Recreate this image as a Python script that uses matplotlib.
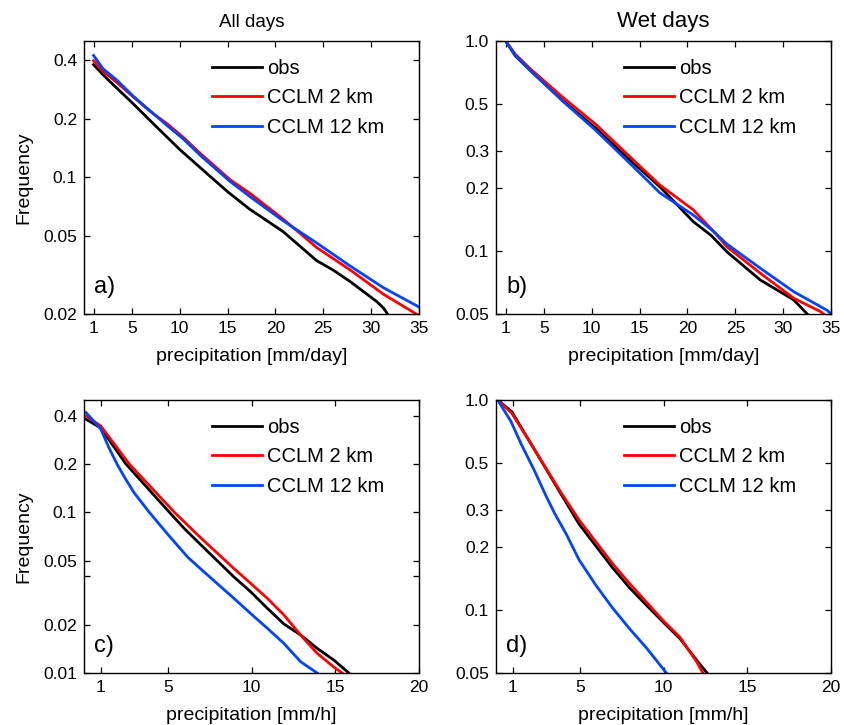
import numpy as np
import matplotlib
matplotlib.use("Agg")
import matplotlib.pyplot as plt
from matplotlib.ticker import FixedLocator, NullFormatter, NullLocator

plt.rcParams['font.family'] = ['Liberation Sans', 'DejaVu Sans']

# a) all days, daily precipitation
a_obs_x = [1, 2, 3, 5, 7.5, 10, 13.3, 15, 17.3, 20.8, 24.3, 26, 27.8, 30.6, 31.3, 31.7]
a_obs_y = [0.378, 0.335, 0.3, 0.242, 0.183, 0.139, 0.1, 0.0845, 0.0688, 0.0528,
           0.0375, 0.0336, 0.0293, 0.0231, 0.0214, 0.02]
a_2km_x = [1, 2, 3.4, 5.2, 6.9, 8.7, 10.4, 12.2, 15.3, 17.3, 20.8, 24.3, 27.8, 31.3, 34.7]
a_2km_y = [0.396, 0.35, 0.307, 0.257, 0.218, 0.188, 0.160, 0.132, 0.097, 0.0832, 0.0612,
           0.0438, 0.0336, 0.0252, 0.02]
a_12km_x = [1, 2, 3.4, 5.2, 8.7, 10.4, 12.2, 15.3, 17.3, 20.8, 24.3, 27.8, 31.3, 35]
a_12km_y = [0.421, 0.36, 0.316, 0.259, 0.184, 0.157, 0.129, 0.095, 0.080, 0.060, 0.0462, 0.0352,
            0.0272, 0.0217]

# b) wet days, daily precipitation
b_obs_x = [1, 2, 3.44, 6.93, 10.4, 13.9, 16.3, 17.2, 20.6, 22.5, 24.1, 27.6, 31.1, 32.5]
b_obs_y = [1.0, 0.85, 0.733, 0.521, 0.384, 0.273, 0.218, 0.2, 0.1377, 0.118, 0.099, 0.0726, 0.0583, 0.05]
b_2km_x = [1, 2, 3.44, 6.93, 10.4, 13.9, 16.3, 17.1, 20.6, 22.7, 24.1, 27.6, 31.1, 33.9, 34.2]
b_2km_y = [1.0, 0.865, 0.746, 0.541, 0.401, 0.283, 0.223, 0.206, 0.1567, 0.124, 0.1047, 0.0782,
           0.0594, 0.0513, 0.05]
b_12km_x = [1, 2, 3.44, 6.93, 10.4, 13.9, 16.3, 17.1, 20.6, 22.7, 24.1, 27.6, 31.1, 34.6, 35]
b_12km_y = [1.0, 0.855, 0.733, 0.518, 0.3755, 0.263, 0.2055, 0.189, 0.148, 0.124, 0.1078, 0.0826,
            0.0638, 0.052, 0.05]

# c) all hours, hourly precipitation
c_obs_x = [0.13, 1.0, 2.5, 5.1, 6.0, 6.96, 8.94, 9.94, 10.94, 11.93, 12.93, 13.92, 14.91, 15.81]
c_obs_y = [0.379, 0.335, 0.2, 0.1, 0.079, 0.063, 0.0397, 0.0321, 0.0253, 0.0202, 0.01724, 0.01424, 0.01205, 0.01]
c_2km_x = [0.13, 1.0, 2.7, 5.4, 6.2, 6.96, 8.94, 9.94, 10.94, 11.93, 12.93, 13.92, 14.91, 15.41]
c_2km_y = [0.397, 0.345, 0.2, 0.1, 0.083, 0.0695, 0.0448, 0.0362, 0.0292, 0.023, 0.01724, 0.01326, 0.0109, 0.01]
c_12km_x = [0.13, 1.0, 1.5, 2.0, 2.5, 3.0, 3.9, 5.0, 6.2, 6.96, 8.94, 9.94, 10.94, 11.93, 12.93, 13.92]
c_12km_y = [0.417, 0.33, 0.251, 0.197, 0.16, 0.132, 0.1, 0.073, 0.0525, 0.0445, 0.0292, 0.0235, 0.019,
            0.0153, 0.01176, 0.01]

# d) wet hours, hourly precipitation
d_obs_x = [0.1, 0.94, 2.0, 2.9, 3.9, 4.96, 5.96, 6.96, 7.97, 8.97, 9.97, 10.98, 11.98, 12.6]
d_obs_y = [1.0, 0.88, 0.635, 0.482, 0.354, 0.256, 0.2015, 0.1586, 0.1274, 0.1054, 0.0875, 0.0729, 0.0575, 0.05]
d_2km_x = [0.1, 0.94, 2.0, 2.9, 3.9, 4.96, 5.96, 6.96, 7.97, 8.97, 9.97, 10.98, 11.98, 12.35]
d_2km_y = [1.0, 0.865, 0.635, 0.485, 0.36, 0.268, 0.211, 0.166, 0.1336, 0.109, 0.089, 0.074, 0.0565, 0.05]
d_12km_x = [0.1, 0.9, 1.5, 2.25, 3.0, 3.5, 4.2, 4.96, 5.96, 6.96, 7.97, 8.97, 10.17]
d_12km_y = [1.0, 0.788, 0.617, 0.468, 0.347, 0.288, 0.229, 0.173, 0.131, 0.102, 0.0813, 0.066, 0.05]

labels = ['obs', 'CCLM 2 km', 'CCLM 12 km']
colors = ['black', '#ff0000', '#0044ff']

panels = [
    dict(pos=[0.0995, 0.567, 0.397, 0.3766], data=[(a_obs_x, a_obs_y), (a_2km_x, a_2km_y), (a_12km_x, a_12km_y)],
         xlim=(0, 35), xt=[1, 5, 10, 15, 20, 25, 30, 35], ylim=(0.02, 0.5),
         yt=[0.02, 0.05, 0.1, 0.2, 0.4], ytl=['0.02', '0.05', '0.1', '0.2', '0.4'],
         xlabel='precipitation [mm/day]', title='All days', tsize=13.5, letter='a)', ylabel=True, minor=[]),
    dict(pos=[0.5877, 0.567, 0.397, 0.3766], data=[(b_obs_x, b_obs_y), (b_2km_x, b_2km_y), (b_12km_x, b_12km_y)],
         xlim=(0, 35), xt=[1, 5, 10, 15, 20, 25, 30, 35], ylim=(0.05, 1.0),
         yt=[0.05, 0.1, 0.2, 0.3, 0.5, 1.0], ytl=['0.05', '0.1', '0.2', '0.3', '0.5', '1.0'],
         xlabel='precipitation [mm/day]', title='Wet days', tsize=16, letter='b)', ylabel=False, minor=[]),
    dict(pos=[0.0995, 0.0717, 0.397, 0.3766], data=[(c_obs_x, c_obs_y), (c_2km_x, c_2km_y), (c_12km_x, c_12km_y)],
         xlim=(0, 20), xt=[1, 5, 10, 15, 20], ylim=(0.01, 0.5),
         yt=[0.01, 0.02, 0.05, 0.1, 0.2, 0.4], ytl=['0.01', '0.02', '0.05', '0.1', '0.2', '0.4'],
         xlabel='precipitation [mm/h]', title=None, tsize=13.5, letter='c)', ylabel=True, minor=[0.04]),
    dict(pos=[0.5877, 0.0717, 0.397, 0.3766], data=[(d_obs_x, d_obs_y), (d_2km_x, d_2km_y), (d_12km_x, d_12km_y)],
         xlim=(0, 20), xt=[1, 5, 10, 15, 20], ylim=(0.05, 1.0),
         yt=[0.05, 0.1, 0.2, 0.3, 0.5, 1.0], ytl=['0.05', '0.1', '0.2', '0.3', '0.5', '1.0'],
         xlabel='precipitation [mm/h]', title=None, tsize=13.5, letter='d)', ylabel=False, minor=[]),
]

fig = plt.figure(figsize=(8.44, 7.25), dpi=100)

for p in panels:
    ax = fig.add_axes(p['pos'])
    for (x, y), lab, col in zip(p['data'], labels, colors):
        ax.plot(x, y, color=col, linewidth=2, label=lab)
    ax.set_yscale('log')
    ax.set_xlim(*p['xlim'])
    ax.set_ylim(*p['ylim'])
    ax.set_xticks(p['xt'])
    ax.set_xticklabels([str(v) for v in p['xt']])
    ax.yaxis.set_major_locator(FixedLocator(p['yt']))
    ax.set_yticklabels(p['ytl'])
    if p['minor']:
        ax.yaxis.set_minor_locator(FixedLocator(p['minor']))
    else:
        ax.yaxis.set_minor_locator(NullLocator())
    ax.yaxis.set_minor_formatter(NullFormatter())
    ax.tick_params(which='both', direction='in', top=True, right=True, labelsize=12.5,
                   length=4, width=0.9, pad=5)
    for s in ax.spines.values():
        s.set_linewidth(1)
    ax.set_xlabel(p['xlabel'], fontsize=14, labelpad=9)
    if p['ylabel']:
        ax.set_ylabel('Frequency', fontsize=14, labelpad=8)
    if p['title']:
        ax.set_title(p['title'], fontsize=p['tsize'], pad=10)
    ax.text(0.03, 0.1, p['letter'], transform=ax.transAxes, fontsize=17, va='center', ha='left')
    ax.legend(loc='upper left', bbox_to_anchor=(0.382, 0.935), frameon=False, fontsize=14.5,
              handlelength=2.5, handletextpad=0.25, labelspacing=0.53, borderpad=0, borderaxespad=0)

fig.savefig('out.png', dpi=100)
